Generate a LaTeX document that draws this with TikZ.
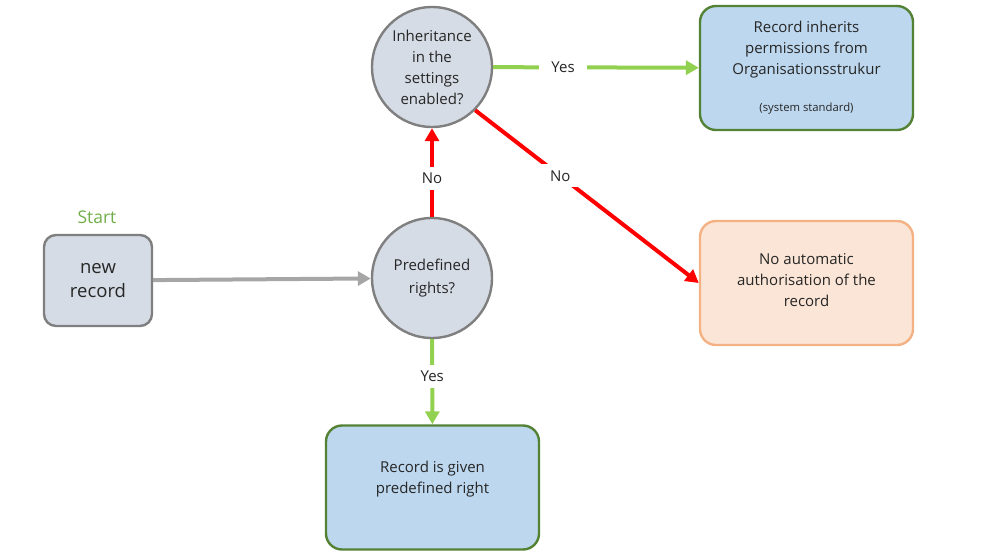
\documentclass[tikz,border=0pt]{standalone}
\usepackage{fontspec}
\setmainfont{Open Sans}
\usetikzlibrary{arrows.meta}
\definecolor{nodefill}{HTML}{D6DCE5}
\definecolor{nodeline}{HTML}{7F7F7F}
\definecolor{bluefill}{HTML}{BDD7EE}
\definecolor{greenline}{HTML}{548235}
\definecolor{orangefill}{HTML}{FBE5D6}
\definecolor{orangeline}{HTML}{F4B183}
\definecolor{arrowgray}{HTML}{A6A6A6}
\definecolor{arrowgreen}{HTML}{92D050}
\definecolor{startgreen}{HTML}{70AD47}
\definecolor{textdark}{HTML}{262626}

\begin{document}
\begin{tikzpicture}[x=1pt, y=-1pt,
	every node/.style={align=center, text=textdark, font=\fontsize{15}{21}\selectfont},
	decision/.style={circle, draw=nodeline, fill=nodefill, line width=2.4pt, minimum size=120pt, inner sep=0pt},
	startbox/.style={rounded corners=12pt, draw=nodeline, fill=nodefill, line width=2.4pt, minimum width=108pt, minimum height=91pt, font=\fontsize{18.5}{24}\selectfont},
	bluebox/.style={rounded corners=16pt, draw=greenline, fill=bluefill, line width=2.4pt, minimum width=213pt, minimum height=124pt},
	orangebox/.style={rounded corners=16pt, draw=orangeline, fill=orangefill, line width=2.4pt, minimum width=213pt, minimum height=124pt},
	flow/.style={line width=4pt, -{Triangle[length=13pt, width=14pt]}},
	lbl/.style={fill=white, inner xsep=12pt, inner ysep=6pt, font=\fontsize{15}{17}\selectfont}]
	\useasboundingbox (0,0) rectangle (999,558);
	
	\node[startbox] (rec) at (98,280.5) {new\\record};
	\node[text=startgreen, font=\fontsize{17.5}{19}\selectfont] (start) at (97,217) {Start};
	\node[decision, font=\fontsize{15}{23}\selectfont] (pre) at (432,278) {Predefined\\rights?};
	\node[decision] (inh) at (432,67) {Inheritance\\in the\\settings\\enabled?};
	\node[bluebox] (inherit) at (806.5,68) {Record inherits\\permissions from\\Organisationsstrukur\\[16pt]{\fontsize{11.3}{13}\selectfont(system standard)}};
	\node[orangebox, font=\fontsize{15}{21}\selectfont] (noauth) at (806.5,283) {No automatic\\authorisation of the\\record\\[-15pt]\mbox{}};
	\node[bluebox] (given) at (432.5,487.5) {Record is given\\predefined right\\\mbox{}};
	
	\draw[flow, arrowgray] (rec) -- (pre);
	\draw[flow, red] (pre) -- node[lbl, pos=0.43] {No} (inh);
	\draw[flow, arrowgreen] (inh) -- node[lbl, pos=0.34] {Yes} (inherit);
	\draw[flow, red] (inh.-45) -- node[lbl, pos=0.38] {No} (noauth.west);
	\draw[flow, arrowgreen] (pre) -- node[lbl, pos=0.44] {Yes} (given);
\end{tikzpicture}
\end{document}
